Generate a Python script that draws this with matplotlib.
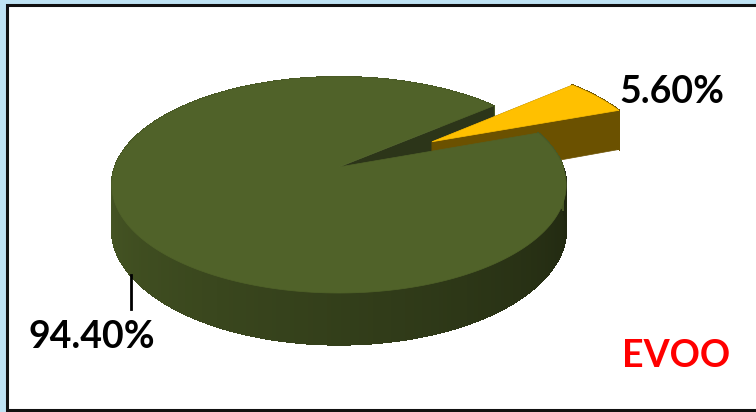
import numpy as np
import matplotlib
matplotlib.use("Agg")
import matplotlib.pyplot as plt
from matplotlib.patches import Polygon, Rectangle
from matplotlib.collections import PolyCollection

# Oil share (percent)
shares = [94.40, 5.60]
share_labels = ["94.40%", "5.60%"]
slice_colors = ["#506229", "#FFC000"]
title_text = "EVOO"

# 3-D pie layout (pixel space)
cx, cy = 339, 167
rx, ry = 224, 105
persp = 0.1667
depth = 43
small_start = 20.0
explode = 0.5


def proj(X, Y, Z=0.0):
    s = 1.0 / (1.0 + persp * Y)
    return cx + rx * X * s, cy - ry * Y * s + depth * Z * s


def shade(color, f):
    rgb = np.array(matplotlib.colors.to_rgb(color))
    return tuple(np.clip(rgb * f, 0, 1))


def wall_quads(t0, t1, ox, oy):
    ts = np.radians(np.linspace(t0, t1, int(abs(t1 - t0)) + 2))
    quads, mids = [], []
    for a, b in zip(ts[:-1], ts[1:]):
        pts = [proj(ox + np.cos(a), oy + np.sin(a), 0),
               proj(ox + np.cos(b), oy + np.sin(b), 0),
               proj(ox + np.cos(b), oy + np.sin(b), 1),
               proj(ox + np.cos(a), oy + np.sin(a), 1)]
        quads.append(pts)
        mids.append(np.degrees((a + b) / 2) % 360)
    return quads, mids


def cut_face(t, ox, oy):
    a = np.radians(t)
    return [proj(ox, oy, 0), proj(ox + np.cos(a), oy + np.sin(a), 0),
            proj(ox + np.cos(a), oy + np.sin(a), 1), proj(ox, oy, 1)]


def top_face(t0, t1, ox, oy):
    ts = np.radians(np.linspace(t0, t1, 400))
    return [proj(ox, oy)] + [proj(ox + np.cos(a), oy + np.sin(a)) for a in ts]


def green_wall_color(t):
    t = t % 360
    if t < 180:
        f = 0.9
    else:
        f = 0.9 - 0.52 * (t - 180) / 180
    return shade(slice_colors[0], f)


def add_walls(quads, colors, z):
    ax.add_collection(PolyCollection(quads, facecolors=colors, edgecolors=colors,
                                     linewidths=0.8, antialiased=False, zorder=z))


fig = plt.figure(figsize=(7.56, 4.12), dpi=100)
fig.patch.set_facecolor("#bfe3f4")
ax = fig.add_axes([0, 0, 1, 1])
ax.set_xlim(0, 756)
ax.set_ylim(412, 0)
ax.axis("off")

# white frame
ax.add_patch(Rectangle((7, 4.5), 760, 405.5, facecolor="white",
                       edgecolor="#111111", lw=2.2, zorder=0))

small_span = shares[1] / 100 * 360
small_end = small_start + small_span
big_start, big_end = small_end, small_start + 360
mid = np.radians((small_start + small_end) / 2)
ex, ey = explode * np.cos(mid), explode * np.sin(mid)

# large slice: hidden back walls and its visible cut face
quads, mids = wall_quads(big_start, 180, 0, 0)
add_walls(quads, [green_wall_color(m) for m in mids], 1)
ax.add_patch(Polygon(cut_face(big_start, 0, 0), closed=True,
                     facecolor="#2c3519", edgecolor="#2c3519", lw=0.5, zorder=2))

# small exploded slice
brown = shade(slice_colors[1], 0.42)
ax.add_patch(Polygon(cut_face(small_end, ex, ey), closed=True,
                     facecolor=brown, edgecolor=brown, lw=0.5, zorder=3))
quads, mids = wall_quads(small_start, small_end, ex, ey)
add_walls(quads, [brown], 3)
ax.add_patch(Polygon(cut_face(small_start, ex, ey), closed=True,
                     facecolor=brown, edgecolor=brown, lw=0.5, zorder=4))
ax.add_patch(Polygon(top_face(small_start, small_end, ex, ey), closed=True,
                     facecolor=slice_colors[1], edgecolor=slice_colors[1],
                     lw=0.5, zorder=5))

# large slice: front walls and top
quads, mids = wall_quads(180, big_end, 0, 0)
add_walls(quads, [green_wall_color(m) for m in mids], 6)
ax.add_patch(Polygon(top_face(big_start, big_end, 0, 0), closed=True,
                     facecolor=slice_colors[0], edgecolor=slice_colors[0],
                     lw=0.5, zorder=7))

# data labels
font = dict(family=["Lato", "DejaVu Sans"], fontweight="bold", fontsize=27)
ax.plot([131, 131], [275, 309], color="black", lw=2, zorder=8)
ax.text(92, 337, share_labels[0], ha="center", va="center", color="black", **font)
ax.text(672, 92, share_labels[1], ha="center", va="center", color="black", **font)
ax.text(676, 356, title_text, ha="center", va="center", color="#ff0000", **font)

fig.savefig("out.png", dpi=100, facecolor=fig.get_facecolor())
